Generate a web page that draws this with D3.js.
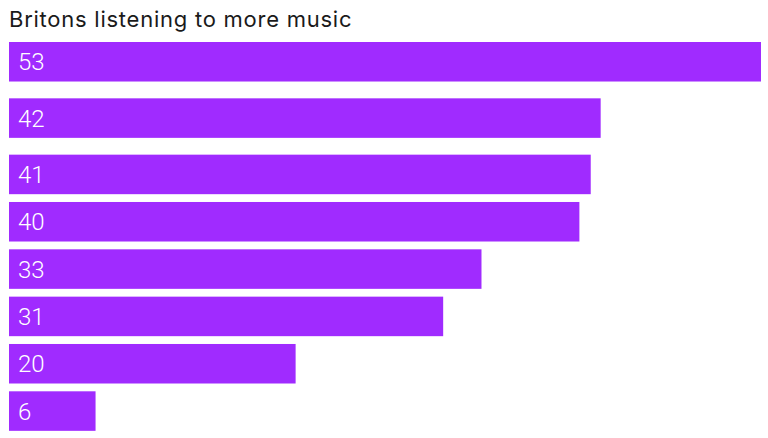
<!DOCTYPE html>
<html>
<head>
<meta charset="utf-8">
<script src="https://cdn.jsdelivr.net/npm/d3@7"></script>
<style>
  body { margin: 0; background: #fff; }
  svg { display: block; }
</style>
</head>
<body>
<div class="graphic"></div>
<script>
// chart data
const title = "Britons listening to more music";
const values = [53, 41.7, 41, 40.2, 33.3, 30.6, 20.2, 6.1];
const labels = ["53", "42", "41", "40", "33", "31", "20", "6"];

const width = 768, height = 438;
const marginLeft = 9, marginTop = 42;
const step = 47.33, groupGap = 9;

const svg = d3.select(".graphic")
  .append("svg")
  .attr("width", width)
  .attr("height", height);

svg.append("text")
  .text(title)
  .attr("x", 9)
  .attr("y", 27)
  .attr("font-family", "Inter, 'Noto Sans', sans-serif")
  .attr("font-size", 22)
  .attr("letter-spacing", 0.75)
  .attr("fill", "#1a1a1a");

const xScale = d3.scaleLinear()
  .domain([0, 53])
  .range([marginLeft, 761]);

// band scale for the rows; first two rows sit a bit apart from the rest
const yScale = d3.scaleBand()
  .domain(d3.range(values.length))
  .range([marginTop, marginTop + step * (values.length - 0.165)])
  .paddingInner(0.165)
  .paddingOuter(0);

const rowY = i => yScale(i) + Math.min(i, 2) * groupGap;

const row = svg.selectAll("g.row")
  .data(values)
  .join("g")
    .attr("class", "row")
    .attr("transform", (d, i) => `translate(0,${rowY(i)})`);

row.append("rect")
  .attr("x", xScale(0))
  .attr("width", d => xScale(d) - xScale(0))
  .attr("height", yScale.bandwidth())
  .attr("fill", "#a02bff");

row.append("text")
  .text((d, i) => labels[i])
  .attr("x", xScale(0) + 9)
  .attr("y", yScale.bandwidth() / 2)
  .attr("dy", "0.36em")
  .attr("font-family", "Roboto, sans-serif")
  .attr("font-weight", 300)
  .attr("font-size", 24)
  .attr("fill", "#fff");
</script>
</body>
</html>
